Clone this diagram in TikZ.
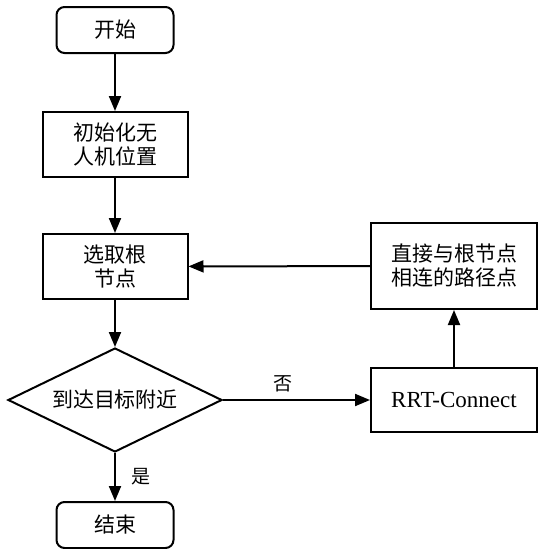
\documentclass[tikz,border=0pt]{standalone}
\usepackage{fontspec}
\setmainfont{Liberation Serif}
\newfontfamily\cjk{Noto Sans CJK SC}
\usetikzlibrary{arrows.meta,positioning,shapes.geometric}

\begin{document}
\begin{tikzpicture}[x=1pt,y=-1pt,->,>={Triangle[length=15pt,width=12pt]},
  line width=2pt,node distance=55pt,
  end node/.style={rectangle,rounded corners=8pt,draw,minimum width=117pt,minimum height=46pt,font=\cjk\fontsize{21}{24}\selectfont},
  main node/.style={rectangle,draw,minimum width=145pt,minimum height=65pt,align=center,font=\cjk\fontsize{21}{24}\selectfont},
  test node/.style={diamond,draw,aspect=2,inner sep=0pt,minimum width=214pt,minimum height=104pt,font=\cjk\fontsize{21}{24}\selectfont},
  side node/.style={rectangle,draw,minimum width=166pt,align=center,font=\cjk\fontsize{21}{24}\selectfont}]
  \useasboundingbox (0,0) rectangle (538,549);
  \node[end node] (1) at (115,30) {开始};
  \node[main node] (2) [below=57pt of 1] {初始化无\\人机位置};
  \node[main node] (3) [below=55pt of 2] {选取根\\节点};
  \node[test node] (4) [below=47pt of 3] {到达目标附近};
  \node[end node] (5) [below=48pt of 4] {结束};
  \node[side node,minimum height=64pt,font=\fontsize{23}{26}\selectfont] (6) [right=147pt of 4] {RRT-Connect};
  \node[side node,minimum height=86pt] (7) [above=57pt of 6] {直接与根节点\\相连的路径点};

  \path[every node/.style={font=\cjk\fontsize{19}{20}\selectfont}]
    (1) edge (2)
    (2) edge (3)
    (3) edge (4)
    (4) edge node[right=12pt] {是} (5)
    (4) edge node[above=4pt,xshift=-14pt] {否} (6)
    (6) edge (7)
    (7) edge (3);
\end{tikzpicture}
\end{document}
